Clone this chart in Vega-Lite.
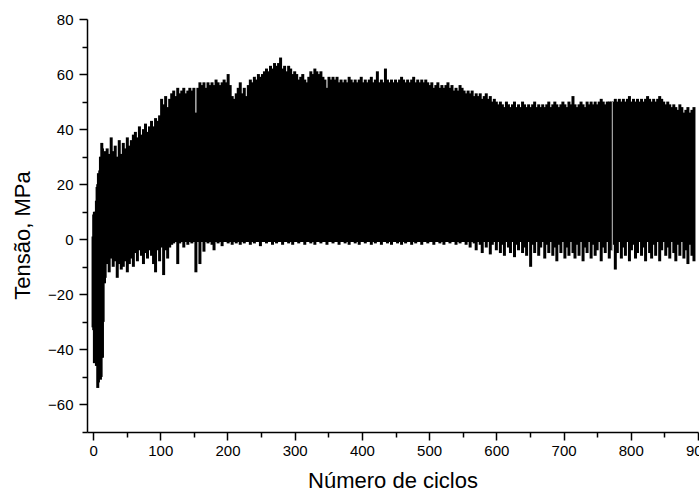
{
"$schema": "https://vega.github.io/schema/vega-lite/v6.json",
"autosize": {"type": "none"},
"width": 611,
"height": 413,
"padding": {"left": 87, "top": 19, "right": 1, "bottom": 64},
"background": "white",
"config": {"view": {"stroke": null}, "font": "Liberation Sans"},
"datasets": {
"gap": [{"c":772.5,"hi":50,"lo":-4}],
"cycles": [
{"c":0,"hi":1,"lo":-32},{"c":1,"hi":9,"lo":-33},{"c":2,"hi":10,"lo":-45},{"c":3,"hi":9,"lo":-33},{"c":4,"hi":10,"lo":-38},{"c":5,"hi":14,"lo":-46},{"c":6,"hi":19,"lo":-40},{"c":7,"hi":20,"lo":-54},{"c":8,"hi":24,"lo":-52},{"c":9,"hi":22,"lo":-48},{"c":10,"hi":25,"lo":-42},{"c":11,"hi":30,"lo":-51},{"c":12,"hi":24,"lo":-50},{"c":13,"hi":35,"lo":-43},{"c":14,"hi":33,"lo":-43},{"c":15,"hi":29,"lo":-30},{"c":16,"hi":31,"lo":-15},{"c":17,"hi":30,"lo":-16},{"c":18,"hi":32,"lo":-14},{"c":19,"hi":30,"lo":-9},{"c":20,"hi":31,"lo":-7},
{"c":21,"hi":33,"lo":-9},{"c":24,"hi":31,"lo":-12},{"c":27,"hi":37,"lo":-7},{"c":30,"hi":32,"lo":-10},{"c":33,"hi":34,"lo":-8},{"c":36,"hi":30,"lo":-14},{"c":39,"hi":36,"lo":-9},{"c":42,"hi":31,"lo":-11},{"c":45,"hi":35,"lo":-10},{"c":48,"hi":33,"lo":-8},{"c":51,"hi":37,"lo":-12},{"c":54,"hi":34,"lo":-9},{"c":57,"hi":36,"lo":-7},{"c":60,"hi":38,"lo":-10},
{"c":63,"hi":39,"lo":-5},{"c":66,"hi":37,"lo":-8},{"c":69,"hi":41,"lo":-4},{"c":72,"hi":38,"lo":-6},{"c":75,"hi":40,"lo":-9},{"c":78,"hi":42,"lo":-5},{"c":81,"hi":39,"lo":-7},{"c":84,"hi":41,"lo":-4},{"c":87,"hi":43,"lo":-6},{"c":90,"hi":41,"lo":-9},{"c":93,"hi":44,"lo":-12},{"c":96,"hi":43,"lo":-4},{"c":99,"hi":45,"lo":-8},
{"c":102,"hi":51,"lo":-3},{"c":105,"hi":49,"lo":-13},{"c":108,"hi":52,"lo":-4},{"c":111,"hi":48,"lo":-7},{"c":114,"hi":51,"lo":-3},{"c":117,"hi":53,"lo":-2},{"c":120,"hi":54,"lo":-1.5},{"c":123,"hi":52,"lo":-1},{"c":126,"hi":55,"lo":-9},{"c":129,"hi":53,"lo":-1.5},{"c":132,"hi":54,"lo":-1},{"c":135,"hi":55,"lo":-3},{"c":138,"hi":53,"lo":-1},{"c":141,"hi":54,"lo":-2},{"c":144,"hi":55,"lo":-1},{"c":147,"hi":54,"lo":-1.5},{"c":150,"hi":55,"lo":-1},
{"c":153,"hi":46,"lo":-12},{"c":156,"hi":55,"lo":-1},{"c":159,"hi":57,"lo":-9},{"c":162,"hi":56,"lo":-1},{"c":165,"hi":57,"lo":-4.5},{"c":168,"hi":55,"lo":-1},{"c":171,"hi":57,"lo":-1.5},{"c":174,"hi":56,"lo":-1},{"c":177,"hi":57,"lo":-2},{"c":180,"hi":56,"lo":-4},{"c":183,"hi":58,"lo":-1},{"c":186,"hi":57,"lo":-1.5},{"c":189,"hi":56,"lo":-1},{"c":192,"hi":57,"lo":-2.5},{"c":195,"hi":58,"lo":-1},{"c":198,"hi":57,"lo":-1},{"c":201,"hi":60,"lo":-1.5},
{"c":204,"hi":56,"lo":-1},{"c":207,"hi":52,"lo":-2},{"c":210,"hi":51,"lo":-1},{"c":213,"hi":53,"lo":-1.5},{"c":216,"hi":55,"lo":-1},{"c":219,"hi":57,"lo":-2},{"c":222,"hi":53,"lo":-1},{"c":225,"hi":55,"lo":-1.5},{"c":228,"hi":52,"lo":-1},{"c":231,"hi":56,"lo":-1},{"c":234,"hi":58,"lo":-2},{"c":237,"hi":57,"lo":-1},{"c":240,"hi":59,"lo":-1.5},{"c":243,"hi":58,"lo":-1},{"c":246,"hi":60,"lo":-1},{"c":249,"hi":59,"lo":-2.5},{"c":252,"hi":60,"lo":-1},{"c":255,"hi":61,"lo":-1},
{"c":258,"hi":62,"lo":-1.5},{"c":261,"hi":61,"lo":-1},{"c":264,"hi":63,"lo":-1},{"c":267,"hi":62,"lo":-2},{"c":270,"hi":64,"lo":-1},{"c":273,"hi":63,"lo":-1.5},{"c":276,"hi":64,"lo":-1},{"c":279,"hi":66,"lo":-1},{"c":282,"hi":62,"lo":-2},{"c":285,"hi":63,"lo":-1},{"c":288,"hi":61,"lo":-1},{"c":291,"hi":63,"lo":-1.5},{"c":294,"hi":62,"lo":-1},{"c":297,"hi":60,"lo":-2},{"c":300,"hi":61,"lo":-1},
{"c":303,"hi":60,"lo":-1},{"c":306,"hi":58,"lo":-1.5},{"c":309,"hi":59,"lo":-1},{"c":312,"hi":60,"lo":-1},{"c":315,"hi":58,"lo":-2},{"c":318,"hi":57,"lo":-1},{"c":321,"hi":59,"lo":-1},{"c":324,"hi":61,"lo":-1.5},{"c":327,"hi":60,"lo":-1},{"c":330,"hi":62,"lo":-2},{"c":333,"hi":61,"lo":-1},{"c":336,"hi":60,"lo":-1},{"c":339,"hi":61,"lo":-1.5},{"c":342,"hi":59,"lo":-1},{"c":345,"hi":58,"lo":-1},{"c":348,"hi":55,"lo":-2},{"c":351,"hi":59,"lo":-1},{"c":354,"hi":58,"lo":-1},{"c":357,"hi":59,"lo":-1.5},{"c":360,"hi":58,"lo":-1},{"c":363,"hi":59,"lo":-1},{"c":366,"hi":57,"lo":-2},{"c":369,"hi":58,"lo":-1},
{"c":372,"hi":57,"lo":-1},{"c":375,"hi":58,"lo":-1.5},{"c":378,"hi":57,"lo":-1},{"c":381,"hi":59,"lo":-2},{"c":384,"hi":58,"lo":-1},{"c":387,"hi":57,"lo":-1},{"c":390,"hi":58,"lo":-1.5},{"c":393,"hi":57,"lo":-1},{"c":396,"hi":58,"lo":-2},{"c":399,"hi":59,"lo":-1},{"c":402,"hi":57,"lo":-1},{"c":405,"hi":58,"lo":-1.5},{"c":408,"hi":57,"lo":-1},{"c":411,"hi":58,"lo":-1},{"c":414,"hi":59,"lo":-2},{"c":417,"hi":57,"lo":-1},{"c":420,"hi":58,"lo":-1.5},{"c":423,"hi":61,"lo":-1},{"c":426,"hi":57,"lo":-1},{"c":429,"hi":58,"lo":-2},{"c":432,"hi":57,"lo":-1},{"c":435,"hi":62,"lo":-1},{"c":438,"hi":58,"lo":-1.5},{"c":441,"hi":57,"lo":-1},{"c":444,"hi":58,"lo":-2},{"c":447,"hi":57,"lo":-1},{"c":450,"hi":58,"lo":-1},{"c":453,"hi":57,"lo":-1.5},{"c":456,"hi":58,"lo":-1},{"c":459,"hi":59,"lo":-2},
{"c":462,"hi":58,"lo":-1},{"c":465,"hi":57,"lo":-1.5},{"c":468,"hi":58,"lo":-1},{"c":471,"hi":57,"lo":-1},{"c":474,"hi":58,"lo":-2},{"c":477,"hi":59,"lo":-1},{"c":480,"hi":57,"lo":-1.5},{"c":483,"hi":58,"lo":-1},{"c":486,"hi":57,"lo":-1},{"c":489,"hi":58,"lo":-2},{"c":492,"hi":57,"lo":-1},{"c":495,"hi":58,"lo":-1},{"c":498,"hi":57,"lo":-1.5},{"c":501,"hi":56,"lo":-1},{"c":504,"hi":57,"lo":-1},{"c":507,"hi":55,"lo":-2},{"c":510,"hi":56,"lo":-1},{"c":513,"hi":57,"lo":-1},{"c":516,"hi":55,"lo":-1.5},{"c":519,"hi":56,"lo":-1},{"c":522,"hi":55,"lo":-2},{"c":525,"hi":56,"lo":-1},{"c":528,"hi":57,"lo":-1},{"c":531,"hi":55,"lo":-1.5},{"c":534,"hi":56,"lo":-1},{"c":537,"hi":54,"lo":-1},{"c":540,"hi":55,"lo":-2},{"c":543,"hi":54,"lo":-1},{"c":546,"hi":56,"lo":-1.5},{"c":549,"hi":55,"lo":-1},
{"c":552,"hi":54,"lo":-1},{"c":555,"hi":53,"lo":-2},{"c":558,"hi":54,"lo":-1},{"c":561,"hi":53,"lo":-3},{"c":564,"hi":54,"lo":-1},{"c":567,"hi":52,"lo":-1.5},{"c":570,"hi":53,"lo":-4},{"c":573,"hi":52,"lo":-1},{"c":576,"hi":53,"lo":-2},{"c":579,"hi":51,"lo":-5},{"c":582,"hi":52,"lo":-1},{"c":585,"hi":53,"lo":-3},{"c":588,"hi":51,"lo":-1},{"c":591,"hi":52,"lo":-5.5},{"c":594,"hi":50,"lo":-2},{"c":597,"hi":51,"lo":-1},{"c":600,"hi":50,"lo":-4},
{"c":603,"hi":49,"lo":-1},{"c":606,"hi":50,"lo":-5},{"c":609,"hi":49,"lo":-2},{"c":612,"hi":48,"lo":-6},{"c":615,"hi":50,"lo":-1},{"c":618,"hi":49,"lo":-3},{"c":621,"hi":48,"lo":-5},{"c":624,"hi":49,"lo":-1},{"c":627,"hi":50,"lo":-6.5},{"c":630,"hi":48,"lo":-2},{"c":633,"hi":49,"lo":-4},{"c":636,"hi":48,"lo":-1},{"c":639,"hi":50,"lo":-5},{"c":642,"hi":49,"lo":-3},{"c":645,"hi":48,"lo":-6},{"c":648,"hi":49,"lo":-1},{"c":651,"hi":48,"lo":-10},{"c":654,"hi":49,"lo":-2},{"c":657,"hi":50,"lo":-5},{"c":660,"hi":48,"lo":-1},
{"c":663,"hi":49,"lo":-6},{"c":666,"hi":48,"lo":-3},{"c":669,"hi":49,"lo":-1},{"c":672,"hi":48,"lo":-7},{"c":675,"hi":49,"lo":-2},{"c":678,"hi":50,"lo":-5},{"c":681,"hi":48,"lo":-1},{"c":684,"hi":49,"lo":-6},{"c":687,"hi":50,"lo":-3},{"c":690,"hi":49,"lo":-8},{"c":693,"hi":48,"lo":-2},{"c":696,"hi":49,"lo":-5},{"c":699,"hi":50,"lo":-1},{"c":702,"hi":49,"lo":-7},{"c":705,"hi":48,"lo":-3},{"c":708,"hi":50,"lo":-6},{"c":711,"hi":49,"lo":-1},{"c":714,"hi":52,"lo":-5},{"c":717,"hi":49,"lo":-7},{"c":720,"hi":48,"lo":-2},
{"c":723,"hi":49,"lo":-6},{"c":726,"hi":50,"lo":-1},{"c":729,"hi":49,"lo":-8},{"c":732,"hi":48,"lo":-3},{"c":735,"hi":50,"lo":-5},{"c":738,"hi":49,"lo":-1},{"c":741,"hi":50,"lo":-7},{"c":744,"hi":49,"lo":-2},{"c":747,"hi":50,"lo":-6},{"c":750,"hi":49,"lo":-4},{"c":753,"hi":50,"lo":-1},{"c":756,"hi":51,"lo":-8},{"c":759,"hi":50,"lo":-3},{"c":762,"hi":49,"lo":-5},{"c":765,"hi":50,"lo":-1},{"c":768,"hi":50,"lo":-7},{"c":771,"hi":50,"lo":-4},
{"c":774,"hi":50,"lo":-2},{"c":777,"hi":51,"lo":-11},{"c":780,"hi":50,"lo":-5},{"c":783,"hi":51,"lo":-1},{"c":786,"hi":50,"lo":-7},{"c":789,"hi":51,"lo":-3},{"c":792,"hi":50,"lo":-6},{"c":795,"hi":51,"lo":-1},{"c":798,"hi":52,"lo":-8},{"c":801,"hi":50,"lo":-4},{"c":804,"hi":51,"lo":-2},{"c":807,"hi":50,"lo":-7},{"c":810,"hi":51,"lo":-5},{"c":813,"hi":50,"lo":-1},{"c":816,"hi":51,"lo":-6},{"c":819,"hi":50,"lo":-3},{"c":822,"hi":51,"lo":-8},{"c":825,"hi":52,"lo":-1},{"c":828,"hi":51,"lo":-5},{"c":831,"hi":50,"lo":-7},{"c":834,"hi":51,"lo":-2},{"c":837,"hi":50,"lo":-6},{"c":840,"hi":51,"lo":-1},{"c":843,"hi":52,"lo":-8},{"c":846,"hi":51,"lo":-4},
{"c":849,"hi":50,"lo":-1},{"c":852,"hi":49,"lo":-6},{"c":855,"hi":50,"lo":-3},{"c":858,"hi":49,"lo":-7},{"c":861,"hi":48,"lo":-1},{"c":864,"hi":49,"lo":-5},{"c":867,"hi":48,"lo":-8},{"c":870,"hi":47,"lo":-2},{"c":873,"hi":49,"lo":-6},{"c":876,"hi":48,"lo":-1},{"c":879,"hi":46,"lo":-7},{"c":882,"hi":47,"lo":-4},{"c":885,"hi":48,"lo":-9},{"c":888,"hi":46,"lo":-2},{"c":891,"hi":47,"lo":-6},{"c":894,"hi":48,"lo":-8}
]},
"encoding": {
"x": {"field": "c", "type": "quantitative",
  "scale": {"domain": [-9, 900], "nice": false, "zero": false},
  "axis": {"title": "Número de ciclos", "values": [0,50,100,150,200,250,300,350,400,450,500,550,600,650,700,750,800,850,900],
    "labelExpr": "datum.value % 100 === 0 ? datum.label : ''", "format": "d",
    "grid": false, "domainColor": "#000", "domainWidth": 1.5, "tickColor": "#000", "tickWidth": 1.5,
    "tickSize": {"condition": {"test": "datum.value % 100 === 0", "value": 8}, "value": 5},
    "labelFont": "Liberation Sans", "labelFontSize": 15, "labelColor": "#000", "labelPadding": 3, "labelFlush": false, "labelOverlap": false,
    "titleFont": "Liberation Sans", "titleFontSize": 22, "titleFontWeight": "normal", "titleColor": "#000", "titlePadding": 12}},
"y": {"field": "lo", "type": "quantitative",
  "scale": {"domain": [-70, 80], "nice": false, "zero": false},
  "axis": {"title": "Tensão, MPa", "values": [-70,-60,-50,-40,-30,-20,-10,0,10,20,30,40,50,60,70,80],
    "labelExpr": "datum.value % 20 === 0 ? datum.label : ''",
    "grid": false, "domainColor": "#000", "domainWidth": 1.5, "tickColor": "#000", "tickWidth": 1.5,
    "tickSize": {"condition": {"test": "datum.value % 20 === 0", "value": 8}, "value": 5},
    "labelFont": "Liberation Sans", "labelFontSize": 15, "labelColor": "#000", "labelPadding": 6, "labelOverlap": false,
    "titleFont": "Liberation Sans", "titleFontSize": 22, "titleFontWeight": "normal", "titleColor": "#000", "titlePadding": 13, "titleY": 216}},
"y2": {"field": "hi"}
},
"layer": [
{"data": {"name": "cycles"}, "mark": {"type": "rule", "color": "#000000", "strokeWidth": 3}},
{"data": {"name": "gap"}, "mark": {"type": "rule", "color": "#c8c8c8", "strokeWidth": 1}}
]
}
